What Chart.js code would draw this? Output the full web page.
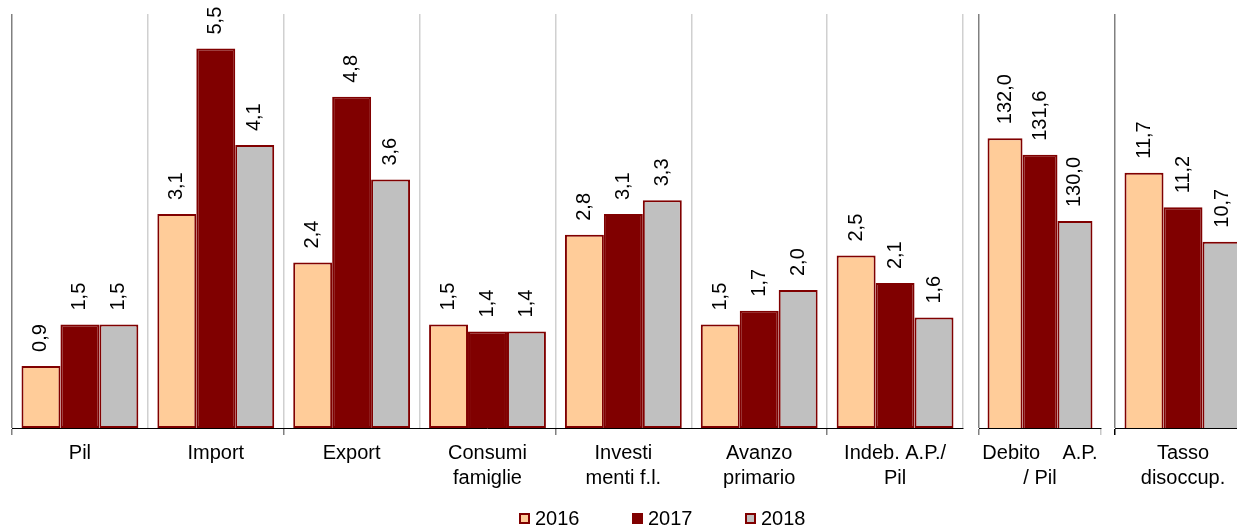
<!DOCTYPE html>
<html><head><meta charset="utf-8">
<script src="https://cdn.jsdelivr.net/npm/chart.js@4/dist/chart.umd.min.js"></script>
<style>
html,body{margin:0;padding:0;width:1237px;height:527px;overflow:hidden;background:#fff;font-family:"Liberation Sans",Arial,sans-serif;}
.panel{position:absolute;top:0;height:527px;}
.lg{position:absolute;top:506px;height:24px;line-height:24px;font-size:20px;color:#000;white-space:nowrap;}
.lg i{position:absolute;left:0;top:7px;width:11px;height:11px;box-sizing:border-box;border:2px solid #800000;}
.lg span{position:absolute;left:16px;top:0;}
</style></head><body>
<div class="panel" style="left:0;width:980px"><canvas id="c1" width="980" height="527"></canvas></div>
<div class="panel" style="left:959px;width:165px"><canvas id="c2" width="165" height="527"></canvas></div>
<div class="panel" style="left:1095px;width:200px"><canvas id="c3" width="200" height="527"></canvas></div>
<div id="legend"></div>
<script>
// ---- data ----
const years = ['2016', '2017', '2018'];
const catsMain = ['Pil', 'Import', 'Export', ['Consumi', 'famiglie'], ['Investi', 'menti f.l.'], ['Avanzo', 'primario'], ['Indeb. A.P./', 'Pil']];
const main2016 = [0.9, 3.1, 2.4, 1.5, 2.8, 1.5, 2.5];
const main2017 = [1.5, 5.5, 4.8, 1.4, 3.1, 1.7, 2.1];
const main2018 = [1.5, 4.1, 3.6, 1.4, 3.3, 2.0, 1.6];
const catsDebt = [['Debito    A.P.', '/ Pil']];
const debt2016 = [132.0];
const debt2017 = [131.6];
const debt2018 = [130.0];
const catsUnemp = [['Tasso', 'disoccup.']];
const unemp2016 = [11.7];
const unemp2017 = [11.2];
const unemp2018 = [10.7];

// ---- styles ----
const fills = ['#FFCC99', '#800000', '#C0C0C0'];
const edge = '#800000';
Chart.defaults.font.family = '"Liberation Sans", Arial, sans-serif';
Chart.defaults.font.size = 20;
Chart.defaults.color = '#000';

const valueLabels = {
  id: 'valueLabels',
  afterDatasetsDraw(chart) {
    const ctx = chart.ctx;
    ctx.save();
    ctx.font = '20px "Liberation Sans", Arial, sans-serif';
    ctx.fillStyle = '#000';
    ctx.textAlign = 'left';
    ctx.textBaseline = 'middle';
    chart.data.datasets.forEach((ds, i) => {
      const meta = chart.getDatasetMeta(i);
      meta.data.forEach((el, j) => {
        const v = ds.data[j];
        ctx.save();
        ctx.translate(el.x, el.y - 14);
        ctx.rotate(-Math.PI / 2);
        ctx.fillText(v.toFixed(1).replace('.', ','), 0, 0);
        ctx.restore();
      });
    });
    ctx.restore();
  }
};

function makePanel(id, cats, series, min, max, padL, padR, gridColor, tickColor) {
  return new Chart(document.getElementById(id), {
    type: 'bar',
    data: {
      labels: cats,
      datasets: series.map((d, i) => ({
        label: years[i], data: d, backgroundColor: fills[i], borderColor: edge,
        borderWidth: 2, borderSkipped: false,
        categoryPercentage: 0.86, barPercentage: 1
      }))
    },
    options: {
      responsive: false, animation: false,
      layout: { padding: { left: padL, right: padR, top: 14, bottom: 0 } },
      plugins: { legend: { display: false }, tooltip: { enabled: false } },
      scales: {
        x: {
          offset: true,
          grid: { offset: true, drawOnChartArea: true, drawTicks: true, tickLength: 7,
                  color: gridColor, lineWidth: 1.5, tickColor: tickColor, tickWidth: 1.5 },
          border: { display: true, color: '#000', width: 1 },
          ticks: { color: '#000', font: { size: 20, lineHeight: 1.25 }, padding: 6, maxRotation: 0, minRotation: 0, autoSkip: false },
          afterFit: s => { s.height = 99; }
        },
        y: { display: false, min: min, max: max }
      }
    },
    plugins: [valueLabels]
  });
}

makePanel('c1', catsMain, [main2016, main2017, main2018], 0, 6, 12, 17,
  c => (c.index === 0 ? '#808080' : '#D0D0D0'),
  c => (c.index !== undefined && c.index % 2 === 0 ? '#808080' : 'rgba(0,0,0,0)'));
makePanel('c2', catsDebt, [debt2016, debt2017, debt2018], 125, 135, 20, 23,
  c => (c.index === 0 ? '#808080' : 'rgba(0,0,0,0)'),
  c => (c.index === 0 ? '#808080' : '#C8C8C8'));
makePanel('c3', catsUnemp, [unemp2016, unemp2017, unemp2018], 8, 14, 20, 44,
  c => (c.index === 0 ? '#808080' : 'rgba(0,0,0,0)'),
  c => (c.index === 0 ? '#000000' : 'rgba(0,0,0,0)'));

// ---- legend ----
const lg = document.getElementById('legend');
years.forEach((y, i) => {
  const d = document.createElement('div');
  d.className = 'lg';
  d.style.left = (519 + i * 113) + 'px';
  const b = document.createElement('i');
  b.style.background = fills[i];
  const s = document.createElement('span');
  s.textContent = y;
  d.appendChild(b); d.appendChild(s);
  lg.appendChild(d);
});
</script>
</body></html>
